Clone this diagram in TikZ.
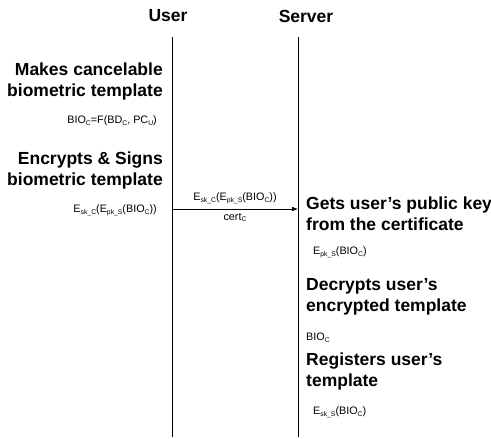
\documentclass[tikz,border=0pt]{standalone}
\usepackage{fontspec}
\setmainfont{Liberation Sans}
\usetikzlibrary{arrows.meta}
\newcommand{\sbs}[1]{\raisebox{-0.3ex}{\fontsize{6.8}{6.8}\selectfont #1}}
\begin{document}
\begin{tikzpicture}[x=1pt,y=-1pt,
  head/.style={font=\fontsize{17.5}{21}\selectfont\bfseries, inner sep=0pt},
  formula/.style={font=\fontsize{10.8}{13}\selectfont, inner sep=0pt},
  lifeline/.style={line width=0.6pt},
  msg/.style={line width=0.6pt, -{Latex[length=6pt,width=4.5pt]}}]
\useasboundingbox (0,0) rectangle (491,439);
% titles
\node[head] (user) at (168,16) {User};
\node[head] (server) at (306,16) {Server};
% lifelines
\coordinate (ut) at (172,37); \coordinate (ub) at (172,437);
\coordinate (st) at (298,37); \coordinate (sb) at (298,437);
\draw[lifeline] (ut) -- (ub);
\draw[lifeline] (st) -- (sb);
% user side
\node[head, anchor=east, align=right] (mk) at (163,81) {Makes cancelable\\biometric template};
\node[formula, anchor=east] (f1) at (157,121) {BIO\sbs{C}=F(BD\sbs{C}, PC\sbs{U})};
\node[head, anchor=east, align=right] (enc) at (163,170) {Encrypts \& Signs\\biometric template};
\node[formula, anchor=east] (f2) at (157,210) {E\sbs{sk\_C}(E\sbs{pk\_S}(BIO\sbs{C}))};
% message
\coordinate (m1) at (172,209); \coordinate (m2) at (298,209);
\draw[msg] (m1) -- node[formula, above=5pt] (ml) {E\sbs{sk\_C}(E\sbs{pk\_S}(BIO\sbs{C}))} node[formula, below=4pt] (mc) {cert\sbs{C}} (m2);
% server side
\node[head, anchor=west, align=left] (gets) at (306,214) {Gets user’s public key\\from the certificate};
\node[formula, anchor=west] (f3) at (313,252) {E\sbs{pk\_S}(BIO\sbs{C})};
\node[head, anchor=west, align=left] (dec) at (306,297) {Decrypts user’s\\encrypted template};
\node[formula, anchor=west] (f4) at (306,338) {BIO\sbs{C}};
\node[head, anchor=west, align=left] (reg) at (306,371) {Registers user’s\\template};
\node[formula, anchor=west] (f5) at (313,412) {E\sbs{sk\_S}(BIO\sbs{C})};
\end{tikzpicture}
\end{document}
